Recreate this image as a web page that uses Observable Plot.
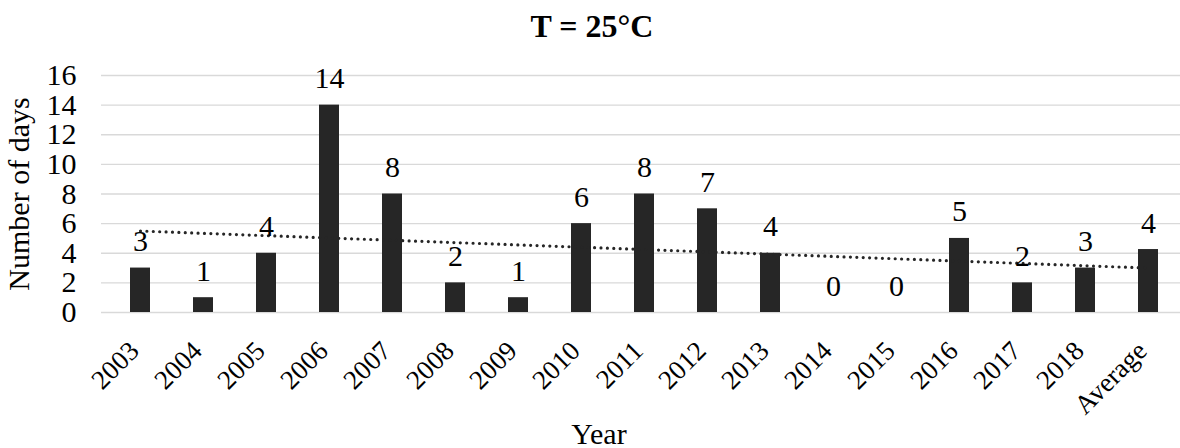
<!DOCTYPE html>
<html><head><meta charset="utf-8">
<script src="https://cdn.jsdelivr.net/npm/d3@7"></script>
<script src="https://cdn.jsdelivr.net/npm/@observablehq/plot@0.6"></script>
<style>body{margin:0;background:#fff;} svg{display:block}</style>
</head><body><div id="chart"></div>
<script>
const categories = ["2003","2004","2005","2006","2007","2008","2009","2010","2011","2012","2013","2014","2015","2016","2017","2018","Average"];
const values = [3,1,4,14,8,2,1,6,8,7,4,0,0,5,2,3,4.25];
const labels = ["3","1","4","14","8","2","1","6","8","7","4","0","0","5","2","3","4"];
const trendCategories = ["2003","Average"];
const trendValues = [5.5, 3.0];
const yTicks = [0,2,4,6,8,10,12,14,16];
const title = "T = 25°C";
const xTitle = "Year";
const yTitle = "Number of days";

const data = categories.map((c,i)=>({category:c, value:values[i], label:labels[i]}));
const trend = trendCategories.map((c,i)=>({category:c, value:trendValues[i]}));

const font = "'Liberation Serif','Times New Roman',serif";
const plot = Plot.plot({
  width:1180, height:448, marginTop:75, marginBottom:136, marginLeft:101, marginRight:0,
  style:{fontFamily:font, fontSize:"30px", color:"#000", background:"#fff", overflow:"visible"},
  x:{domain:categories, range:[101,1187], paddingInner:0.687, paddingOuter:0.3435, axis:null},
  y:{domain:[0,16], axis:null},
  marks:[
    Plot.ruleY(yTicks, {stroke:"#d9d9d9", strokeWidth:1.3}),
    Plot.barY(data, {x:"category", y:"value", fill:"#262626"}),
    Plot.line(trend, {x:"category", y:"value", stroke:"#262626", strokeWidth:3.2, strokeDasharray:"0,6.4", strokeLinecap:"round"}),
    Plot.text(data, {x:"category", y:"value", text:"label", lineAnchor:"bottom", dy:-17, fill:"#000"}),
    Plot.axisY({ticks:yTicks, tickSize:0, tickPadding:25, label:null, tickFormat:d=>String(d)}),
    Plot.text(categories, {x:d=>d, frameAnchor:"bottom", rotate:-45, textAnchor:"end", lineAnchor:"bottom", dx:0, dy:40, fontSize:27}),
    Plot.text([yTitle], {frameAnchor:"left", rotate:-90, textAnchor:"middle", lineAnchor:"bottom", dx:-73}),
    Plot.text([xTitle], {frameAnchor:"bottom", textAnchor:"middle", lineAnchor:"bottom", dx:-42, dy:131}),
    Plot.text([title], {frameAnchor:"top", textAnchor:"middle", lineAnchor:"bottom", dx:-49, dy:-39, fontWeight:"bold", fontSize:32})
  ]
});
document.getElementById("chart").appendChild(plot);
</script>
</body></html>
